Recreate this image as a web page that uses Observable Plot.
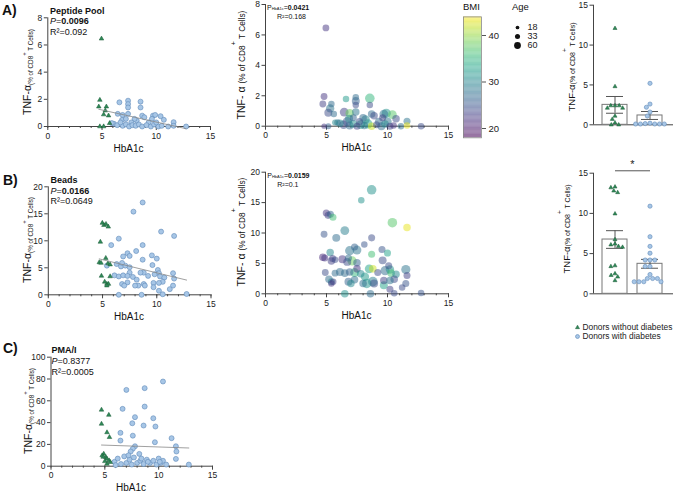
<!DOCTYPE html>
<html><head><meta charset="utf-8">
<script src="https://cdn.jsdelivr.net/npm/d3@7"></script>
<script src="https://cdn.jsdelivr.net/npm/@observablehq/plot@0.6"></script>
<style>
body{margin:0;background:#fff;}
#fig{position:relative;width:676px;height:493px;overflow:hidden;font-family:"Liberation Sans",Arial,Helvetica,sans-serif;color:#111;}
#fig svg{overflow:visible;}
</style></head><body><div id="fig"></div><script>
// ---------- DATA ----------
// Panel A: Peptide Pool  [HbA1c, TNF-a %]
const aTri = [[4.95,6.46],[4.8,1.95],[4.7,1.46],[5.4,1.46],[5.3,1.17],[5.15,0.88],[5.6,0.8],[4.8,0],[5.15,0],[5.7,0.24]];
const aCirc = [[6.6,1.78],[7.4,1.9],[7.4,1.65],[7.4,1.4],[8.55,1.83],[8.55,1.4],[6.45,0.93],[6.9,0.85],[7.4,0.93],[6.85,0.49],[7.2,0.56],[8.7,0.8],[8.9,0.68],[9.7,0.8],[9.9,0.85],[9.6,0.56],[10.4,0.76],[10.7,0.49],[11.6,0.32],[8.2,0.44],[8.0,0.56],[7.7,0.3],[9.3,0.3],[6.1,0.2],[6.4,0.1],[6.9,0.05],[7.2,0.15],[7.5,0],[7.8,0.1],[8.1,0.05],[8.4,0.15],[8.7,0],[9.1,0.1],[9.5,0],[9.8,0.15],[10.2,0],[10.5,0.05],[11.1,0],[11.6,0.05],[12.75,0],[6.7,0.3],[5.9,0.25],[10.0,0.3]];
const aBmi = [22,22,23,27,28,24,27,22,26,30, 32,27,26,24,35,24,23,38,28,30,26,27,24,28,31,23,37,24,28,30,27,24,27,30,24,27,31,23,32,28,33,42,24,27,30,23,22,27,43,24,25,27,28];
const aAge = [33,33,33,30,50,45,30,20,25,25, 30,30,45,30,65,30,55,50,40,45,35,40,40,55,60,35,55,40,35,50,40,35,45,40,50,45,40,35,55,40,60,40,35,45,40,35,30,30,30,30,60,30,50];
const aStats = {title:"Peptide Pool", p:"0.0096", r2:"0.092", pMid:"0.0421", r2Mid:"0.168"};
const aBarWithout = [12.1,4.8,2.4,2.4,2.4,2.1,2.1,1.1,0.7,0.25,0,0];
const aBarWith = [5.2,2.6,2.2,1.6,1.1,0.2,0.15,0.1,0.1,0.1,0.1,0.1];
const aBarMean = [2.5,1.17];
const aBarSem = [1.05,0.5];

// Panel B: Beads
const bTri = [[4.98,13.3],[5.13,12.9],[5.32,13.1],[5.53,12.6],[4.8,9.8],[4.7,6.0],[4.86,5.9],[5.3,6.8],[5.5,5.8],[5.7,5.6],[4.9,3.5],[5.7,3.4],[5.2,2.4],[5.4,2.0],[5.55,2.0],[5.4,1.7]];
const bCirc = [[8.7,17.1],[7.85,15.4],[10.4,11.7],[11.6,10.9],[6.5,10.4],[5.8,9.2],[8.7,9.2],[8.1,8.1],[9.55,7.3],[7.3,7.7],[7.5,7.2],[6.9,7.1],[10.0,6.7],[8.7,6.5],[9.6,5.5],[5.4,5.4],[6.3,5.7],[6.7,5.25],[7.1,5.4],[7.5,5.1],[6.8,5.9],[10.1,4.6],[10.2,4.0],[9.8,3.8],[8.8,4.1],[8.5,4.1],[7.5,4.1],[6.1,3.6],[6.5,3.4],[6.9,3.6],[7.3,3.5],[7.8,3.3],[8.15,2.8],[9.2,3.5],[10.3,3.4],[10.7,3.2],[11.5,4.0],[11.6,3.0],[10.55,2.4],[9.7,2.2],[8.8,2.0],[8.3,1.7],[7.3,2.3],[6.8,2.0],[7.0,1.7],[8.0,1.7],[8.9,1.7],[9.7,1.4],[10.2,2.2],[11.5,1.7],[11.2,1.05],[10.2,0.75],[6.5,0],[8.6,0],[10.55,0.1],[12.75,0.15]];
const bBmi = [22,23,26,36,25,21,22,30,23,24,24,27,27,30,23,22, 31,31,37,43,29,27,24,25,25,26,28,28,33,36,24,23,22,24,38,26,27,24,31,27,42,33,22,27,27,26,35,30,32,24,36,30,28,23,24,23,29,31,27,26,30,27,24,33,28,25,24,23,31,27,24,25];
const bAge = [35,35,35,35,33,40,35,40,35,30,33,33,40,35,30,30, 65,30,65,40,55,45,35,30,35,35,55,60,35,35,45,40,45,45,60,40,35,35,50,60,40,55,40,45,40,40,55,40,50,35,40,40,60,35,40,40,65,65,40,45,40,40,45,45,40,35,30,35,40,40,30,30];
const bStats = {title:"Beads", p:"0.0166", r2:"0.0649", pMid:"0.0159", r2Mid:"0.1"};
const bBarWithout = [13.3,13.2,12.8,12.6,9.95,6.75,6.2,6.1,5.9,5.8,3.5,3.4,2.5,2.3,2.1,1.65];
const bBarWith = [10.9,7.1,5.9,5.05,4.2,4.2,4.2,3.4,3.4,2.4,1.9,1.9,1.9,1.5,1.5,1.5,1.5];
const bBarMean = [6.75,3.73];
const bBarSem = [1.1,0.55];
const bSig = {from:"without", to:"with", y:15.3, label:"*"};

// Panel C: PMA/I
const cTri = [[4.69,51.7],[5.37,47],[4.69,38.8],[5.2,31],[5.43,26.6],[4.9,11.3],[4.75,9.8],[5.1,8.2],[5.2,6.7],[5.4,5.2],[5.5,3.7],[5.2,2.1],[4.85,8.5],[5.0,4.5]];
const cCirc = [[10.4,77.7],[7.0,70],[8.7,71.6],[8.7,54.7],[6.65,52.6],[7.8,45],[9.5,44],[7.55,39.4],[8.6,37.3],[9.7,36.4],[6.45,30.6],[6.45,23.5],[7.6,28],[9.65,22],[11.2,25.7],[11.6,18.3],[11.65,13.5],[11.6,6.7],[7.8,18.3],[7.6,16],[7.4,13.5],[8.2,11.3],[5.9,4],[6.2,7],[6.5,2],[6.8,9],[7.0,3],[7.3,6],[7.5,1.5],[7.7,8],[8.0,3],[8.3,5],[8.6,2],[8.9,6],[9.2,3],[9.5,5],[9.8,1.5],[10.0,7],[10.2,3],[10.4,5],[10.7,1.5],[6.0,1],[12.8,1.5],[7.2,10],[8.4,7],[9.0,4],[10.1,4]];
const cStats = {title:"PMA/I", p:"0.8377", r2:"0.0005"};

const groups = ["without","with"];
const legendItems = ["Donors without diabetes","Donors with diabetes"];
const ageLegend = [18,33,60];
const bmiTicks = [20,30,40];

// ---------- STYLE ----------
const FONT = '"Liberation Sans", Arial, Helvetica, sans-serif';
const TRI_FILL = "#2f8a58", TRI_STROKE = "#1c5a38";
const CIRC_FILL = "#a7c6e6", CIRC_STROKE = "#5f89b9";
const AXIS = "#444";
const fig = document.getElementById("fig");
const baseStyle = {background:"transparent", color:"#222", fontFamily: FONT, fontSize:"8.5px", overflow:"visible"};

function put(el, left, top){ el.style.position="absolute"; el.style.left=left+"px"; el.style.top=top+"px"; fig.appendChild(el); return el; }
function html(s, left, top, css=""){ const d=document.createElement("div"); d.innerHTML=s; d.style.cssText=`position:absolute;left:${left}px;top:${top}px;white-space:nowrap;line-height:1;${css}`; fig.appendChild(d); return d; }
function ylabel(s, cx, cy){ return html(s, cx, cy, "transform:translate(-50%,-50%) rotate(-90deg);"); }
const pts = arr => arr.map(d => ({h:d[0], v:d[1]}));

function leftScatter(tri, circ, o){
  const T = pts(tri), C = pts(circ);
  const p = Plot.plot({
    width:o.w, height:o.h,
    marginLeft:o.x0-o.left, marginRight:o.left+o.w-o.x15, marginTop:o.yTop-o.top, marginBottom:o.top+o.h-o.y0,
    x:{domain:[0,15]}, y:{domain:[0,o.yMax]}, style:baseStyle,
    marks:[
      Plot.axisX({ticks:d3.range(0,16), tickSize:2, tickFormat:()=>"", label:null, stroke:AXIS}),
      Plot.axisX({ticks:[0,5,10,15], tickSize:4, tickPadding:2, label:null, fontSize:8.5, stroke:AXIS}),
      Plot.axisY({ticks:o.yTicks, tickSize:3.5, tickPadding:2, label:null, fontSize:8.5, stroke:AXIS}),
      Plot.ruleY([0], {stroke:AXIS}),
      Plot.ruleX([0], {stroke:AXIS}),
      Plot.dot(C, {x:"h", y:"v", r:2.5, fill:CIRC_FILL, stroke:CIRC_STROKE, strokeWidth:0.6}),
      Plot.dot(T, {x:"h", y:"v", r:1.7, symbol:"triangle", fill:TRI_FILL, stroke:TRI_STROKE, strokeWidth:0.5}),
      Plot.linearRegressionY(T.concat(C), {x:"h", y:"v", ci:0, stroke:"#888", strokeWidth:0.8})
    ]
  });
  put(p, o.left, o.top);
}

function midScatter(all, bmi, age, o){
  const D = all.map((d,i)=>({h:d[0], v:d[1], bmi:bmi[i], age:age[i]}));
  const p = Plot.plot({
    width:o.w, height:o.h,
    marginLeft:o.x0-o.left, marginRight:o.left+o.w-o.x15, marginTop:o.yTop-o.top, marginBottom:o.top+o.h-o.y0,
    x:{domain:[0,15]}, y:{domain:[0,o.yMax]}, style:baseStyle,
    color:{type:"linear", scheme:"viridis", domain:[18,44]},
    r:{type:"sqrt", domain:[0,60], range:[0,4.6]},
    marks:[
      Plot.axisX({ticks:d3.range(0,16), tickSize:2, tickFormat:()=>"", label:null, stroke:AXIS}),
      Plot.axisX({ticks:[0,5,10,15], tickSize:4, tickPadding:2, label:null, fontSize:8.5, stroke:AXIS}),
      Plot.axisY({ticks:o.yTicks, tickSize:3.5, tickPadding:2, label:null, fontSize:8.5, stroke:AXIS}),
      Plot.ruleY([0], {stroke:AXIS}),
      Plot.ruleX([0], {stroke:AXIS}),
      Plot.dot(D, {x:"h", y:"v", r:"age", fill:"bmi", fillOpacity:0.5, sort:{channel:"r", order:"descending"}})
    ]
  });
  put(p, o.left, o.top);
}

function barPanel(without, withD, mean, sem, o, sig){
  const S = groups.map((g,i)=>({g, mean:mean[i], lo:mean[i]-sem[i], hi:mean[i]+sem[i]}));
  const P = without.map(v=>({g:"without", v})).concat(withD.map(v=>({g:"with", v})));
  const mT = o.y15-o.top, mB = o.top+o.h-o.y0;
  const axes = Plot.plot({
    width:o.w, height:o.h, marginLeft:o.axisX-o.left, marginRight:o.left+o.w-o.xEnd, marginTop:mT, marginBottom:mB,
    x:{domain:[0,1], axis:null}, y:{domain:[0,15]}, style:baseStyle,
    marks:[
      Plot.axisY({ticks:[0,5,10,15], tickSize:3.5, tickPadding:2, label:null, fontSize:8.5, stroke:AXIS}),
      Plot.ruleX([0], {stroke:AXIS}), Plot.ruleY([0], {stroke:AXIS})
    ]
  });
  put(axes, o.left, o.top);
  const data = Plot.plot({
    width:o.w, height:o.h, marginLeft:o.b0-o.left, marginRight:o.left+o.w-o.b1, marginTop:mT, marginBottom:mB,
    fx:{domain:groups, padding:0, axis:null}, x:{domain:[0,1], axis:null}, y:{domain:[0,15], axis:null}, style:baseStyle,
    marks:[
      Plot.barY(S, {fx:"g", y:"mean", insetLeft:5, insetRight:5, fill:"white", stroke:"#777", strokeWidth:1}),
      Plot.ruleX(S, {fx:"g", x:()=>0.5, y1:"lo", y2:"hi", stroke:"#555"}),
      Plot.tickY(S, {fx:"g", y:"hi", insetLeft:9, insetRight:9, stroke:"#555"}),
      Plot.tickY(S, {fx:"g", y:"lo", insetLeft:9, insetRight:9, stroke:"#555"}),
      Plot.dot(P.filter(d=>d.g==="without"), Plot.dodgeX({anchor:"middle", padding:1.2, fx:"g", y:"v", r:1.5, symbol:"triangle", fill:TRI_FILL, stroke:TRI_STROKE, strokeWidth:0.5})),
      Plot.dot(P.filter(d=>d.g==="with"), Plot.dodgeX({anchor:"middle", padding:0.6, fx:"g", y:"v", r:2.1, fill:CIRC_FILL, stroke:CIRC_STROKE, strokeWidth:0.6}))
    ]
  });
  put(data, o.left, o.top);
  if (sig){
    const s = Plot.plot({
      width:o.w, height:o.h, marginLeft:o.b0-o.left, marginRight:o.left+o.w-o.b1, marginTop:mT, marginBottom:mB,
      x:{type:"band", domain:groups, padding:0, axis:null}, y:{domain:[0,15], axis:null}, style:baseStyle,
      marks:[
        Plot.link([sig], {x1:"from", x2:"to", y1:"y", y2:"y", stroke:"#555"}),
        Plot.text([sig], {x:()=>sig.from, y:"y", text:"label", dx:17.5, dy:-6, fontSize:11, fill:"#222"})
      ]
    });
    put(s, o.left, o.top);
  }
}

// ---------- PANELS ----------
leftScatter(aTri, aCirc, {left:0, top:0, w:230, h:160, x0:47.3, x15:210, y0:126, yTop:17.3, yMax:8, yTicks:[0,2,4,6,8]});
midScatter(aTri.concat(aCirc), aBmi, aAge, {left:225, top:0, w:240, h:160, x0:265, x15:448, y0:125.7, yTop:4, yMax:8, yTicks:[0,2,4,6,8]});
barPanel(aBarWithout, aBarWith, aBarMean, aBarSem, {left:540, top:0, w:136, h:150, axisX:593, xEnd:673, b0:597, b1:667, y0:124.3, y15:4.7});

leftScatter(bTri, bCirc, {left:0, top:165, w:230, h:160, x0:47.8, x15:210.5, y0:294.3, yTop:186.3, yMax:20, yTicks:[0,5,10,15,20]});
midScatter(bTri.concat(bCirc), bBmi, bAge, {left:225, top:165, w:240, h:160, x0:265, x15:448, y0:293.3, yTop:171.7, yMax:20, yTicks:[0,5,10,15,20]});
barPanel(bBarWithout, bBarWith, bBarMean, bBarSem, {left:540, top:160, w:136, h:150, axisX:593, xEnd:673, b0:597, b1:667, y0:293.3, y15:172.7}, bSig);

leftScatter(cTri, cCirc, {left:0, top:335, w:230, h:158, x0:50.5, x15:212, y0:465.7, yTop:356.7, yMax:100, yTicks:[0,20,40,60,80,100]});

// BMI colour bar
(function(){
  const steps = d3.range(18, 44, 0.25);
  const p = Plot.plot({
    width:60, height:150, marginLeft:463-455, marginRight:455+60-481, marginTop:16.4, marginBottom:150-137.3,
    x:{domain:[0,1], axis:null}, y:{domain:[18,44]}, style:baseStyle,
    color:{type:"linear", scheme:"viridis", domain:[18,44]},
    marks:[
      Plot.rect(steps, {x1:0, x2:1, y1:d=>d, y2:d=>Math.min(44, d+0.26), fill:d=>d, fillOpacity:0.55}),
      Plot.frame({stroke:"#888", strokeWidth:0.8}),
      Plot.axisY({anchor:"right", ticks:bmiTicks, tickSize:4, tickPadding:3, label:null, fontSize:9.5, stroke:"#555"})
    ]
  });
  put(p, 455, 0);
  html("BMI", 463, 2, "font-size:9.5px;");
})();

// Age size legend
(function(){
  const p = Plot.plot({
    width:50, height:60, marginLeft:0, marginRight:0, marginTop:0, marginBottom:0,
    x:{domain:[0,1], range:[12,13], axis:null},
    y:{type:"point", domain:ageLegend.map(String), range:[21.5,50], axis:null},
    r:{type:"sqrt", domain:[0,60], range:[0,3.4]}, style:baseStyle,
    marks:[
      Plot.dot(ageLegend, {x:()=>0, y:d=>String(d), r:d=>d, fill:"#111"}),
      Plot.text(ageLegend, {x:()=>0, y:d=>String(d), text:d=>String(d), dx:10, textAnchor:"start", fontSize:9, fill:"#222"})
    ]
  });
  put(p, 505, 0);
  html("Age", 512, 2, "font-size:9.5px;");
})();

// group legend
(function(){
  const p = Plot.plot({
    width:106, height:40, marginLeft:0, marginRight:0, marginTop:0, marginBottom:0,
    x:{domain:[0,1], range:[7,8], axis:null},
    y:{type:"point", domain:legendItems, range:[10,28], axis:null}, style:baseStyle,
    marks:[
      Plot.dot(legendItems.slice(0,1), {x:()=>0, y:d=>d, r:1.5, symbol:"triangle", fill:TRI_FILL, stroke:TRI_STROKE, strokeWidth:0.5}),
      Plot.dot(legendItems.slice(1), {x:()=>0, y:d=>d, r:2, fill:CIRC_FILL, stroke:CIRC_STROKE, strokeWidth:0.6}),
      Plot.text(legendItems, {x:()=>0, y:d=>d, text:d=>d, dx:5, textAnchor:"start", fontSize:8.4, fill:"#222"})
    ]
  });
  put(p, 570, 312);
})();

// ---------- TEXT ----------
html("A)", 2, 3.2, "font-size:14px;font-weight:bold;");
html("B)", 3, 173, "font-size:14px;font-weight:bold;");
html("C)", 3, 341, "font-size:14px;font-weight:bold;");

function statBlock(s, x, tops){
  html(s.title, x, tops[0], "font-size:9px;font-weight:bold;");
  html(`<i>P</i>=<b>${s.p}</b>`, x, tops[1], "font-size:9px;");
  html(`R²=${s.r2}`, x, tops[2], "font-size:9px;");
}
statBlock(aStats, 50, [6.8, 16.8, 27.8]);
statBlock(bStats, 50.5, [175.5, 186.5, 197]);
html(cStats.title, 51.5, 345.5, "font-size:9px;font-weight:bold;");
html(`<i>P</i>=${cStats.p}`, 51.5, 357, "font-size:9px;");
html(`R²=${cStats.r2}`, 51.5, 368, "font-size:9px;");

function midStat(s, x, y){
  html(`P<span style="font-size:4px">HbA1c</span>=<b>${s.pMid}</b>`, x, y, "font-size:7px;");
  html(`R²=${s.r2Mid}`, x+10, y+9, "font-size:7px;");
}
midStat(aStats, 267, 4);
midStat(bStats, 267.3, 172.4);

// axis titles
const xl = (cx, top) => html("HbA1c", cx, top, "font-size:10px;transform:translateX(-50%);");
xl(128.6, 143.7); xl(356.5, 143.4); xl(129, 311.8); xl(356.5, 311); xl(131, 483.4);

const leftY = `<span style="font-size:10.5px">TNF-α</span><span style="font-size:6.3px;position:relative;top:2px">(% of CD8<span style="position:relative;top:-7px;font-size:6px">+</span> T Cells)</span>`;
ylabel(leftY, 26, 72); ylabel(leftY, 26, 240); ylabel(leftY, 27, 411);
const midY = `<span style="font-size:10.5px">TNF- α </span><span style="font-size:8.3px">(% of CD8<span style="position:relative;top:-9px;font-size:7px">+</span> T Cells)</span>`;
ylabel(midY, 240, 65); ylabel(midY, 240, 232);
const barY = `<span style="font-size:9.5px">TNF-α</span><span style="font-size:7px">(% of CD8<span style="position:relative;top:-8px;font-size:6.5px">+</span> T Cells)</span>`;
ylabel(barY, 570, 67); ylabel(barY, 565, 229);
</script></body></html>
